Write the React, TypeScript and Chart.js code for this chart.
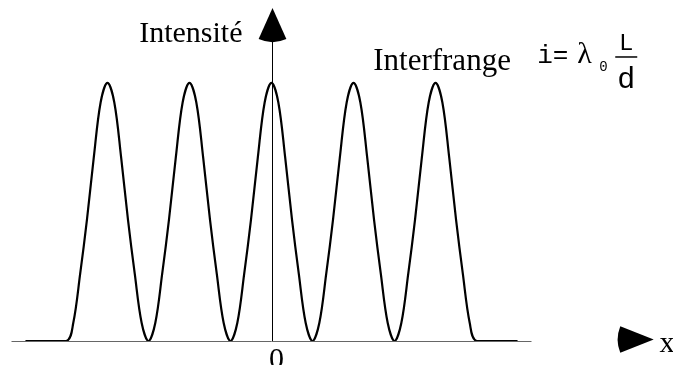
import React, { useEffect, useRef } from "react";
import { Chart, registerables } from "chart.js";

Chart.register(...registerables);

// Position across the screen, in units of the fringe spacing (interfrange)
const positions = [
  -3,
  -2.5, -2.417, -2.333, -2.25, -2.167, -2.083, -2, -1.917, -1.833, -1.75, -1.667, -1.583,
  -1.5, -1.417, -1.333, -1.25, -1.167, -1.083, -1, -0.917, -0.833, -0.75, -0.667, -0.583,
  -0.5, -0.417, -0.333, -0.25, -0.167, -0.083, 0, 0.083, 0.167, 0.25, 0.333, 0.417,
  0.5, 0.583, 0.667, 0.75, 0.833, 0.917, 1, 1.083, 1.167, 1.25, 1.333, 1.417,
  1.5, 1.583, 1.667, 1.75, 1.833, 1.917, 2, 2.083, 2.167, 2.25, 2.333, 2.417,
  2.5,
  3,
];

// Relative intensity at each position (0 = dark fringe, 1 = bright fringe)
const intensity = [
  0,
  0, 0.07, 0.26, 0.47, 0.71, 0.925, 1, 0.925, 0.71, 0.47, 0.26, 0.07,
  0, 0.07, 0.26, 0.47, 0.71, 0.925, 1, 0.925, 0.71, 0.47, 0.26, 0.07,
  0, 0.07, 0.26, 0.47, 0.71, 0.925, 1, 0.925, 0.71, 0.47, 0.26, 0.07,
  0, 0.07, 0.26, 0.47, 0.71, 0.925, 1, 0.925, 0.71, 0.47, 0.26, 0.07,
  0, 0.07, 0.26, 0.47, 0.71, 0.925, 1, 0.925, 0.71, 0.47, 0.26, 0.07,
  0,
  0,
];

const yAxisTitle = "Intensité";
const xAxisTitle = "x";
const originLabel = "0";
const fringeLabel = "Interfrange";

const SERIF = "'Liberation Serif', 'Times New Roman', serif";
const MONO = "'Liberation Mono', 'Courier New', monospace";

// Filled arrow head: a circular sector whose centre is the tip
function arrowHead(
  ctx: CanvasRenderingContext2D,
  tipX: number,
  tipY: number,
  dir: number,
  r: number,
  half: number
) {
  ctx.beginPath();
  ctx.moveTo(tipX, tipY);
  ctx.arc(tipX, tipY, r, dir - half, dir + half);
  ctx.closePath();
  ctx.fill();
}

const axesPlugin = {
  id: "fringeAxes",
  beforeDatasetsDraw(chart: any) {
    const { ctx, scales } = chart;
    const xs = scales.x;
    const ys = scales.y;
    const x0 = xs.getPixelForValue(0);
    const yb = ys.getPixelForValue(0);
    ctx.save();
    // horizontal axis
    ctx.strokeStyle = "#666";
    ctx.lineWidth = 1;
    ctx.beginPath();
    ctx.moveTo(xs.left, Math.round(yb) + 0.5);
    ctx.lineTo(xs.right, Math.round(yb) + 0.5);
    ctx.stroke();
    // vertical axis
    ctx.strokeStyle = "#000";
    ctx.beginPath();
    ctx.moveTo(Math.round(x0) + 0.5, yb);
    ctx.lineTo(Math.round(x0) + 0.5, ys.top + 20);
    ctx.stroke();
    ctx.restore();
  },
  afterDraw(chart: any) {
    const { ctx, scales } = chart;
    const xs = scales.x;
    const ys = scales.y;
    const x0 = Math.round(xs.getPixelForValue(0)) + 0.5;
    const yb = ys.getPixelForValue(0);
    ctx.save();
    ctx.fillStyle = "#000";
    ctx.strokeStyle = "#000";

    // arrow heads
    arrowHead(ctx, x0, ys.top, Math.PI / 2, 34, 0.42);
    arrowHead(ctx, xs.getPixelForValue(4.66), yb - 1.5, Math.PI, 36, 0.38);

    // axis titles
    ctx.font = `30px ${SERIF}`;
    ctx.textBaseline = "alphabetic";
    ctx.textAlign = "right";
    ctx.fillText(yAxisTitle, x0 - 30, ys.getPixelForValue(1.16));
    ctx.textAlign = "left";
    ctx.fillText(xAxisTitle, xs.getPixelForValue(4.73), yb + 11);
    ctx.textAlign = "center";
    ctx.fillText(originLabel, xs.getPixelForValue(0.06), yb + 27);

    // fringe spacing note
    ctx.textAlign = "left";
    ctx.font = `31px ${SERIF}`;
    ctx.fillText(fringeLabel, xs.getPixelForValue(1.24), ys.getPixelForValue(1.05));

    // i = λ0 L / d
    const fx = xs.getPixelForValue(3.24);
    const fy = ys.getPixelForValue(1.077);
    ctx.font = `26px ${MONO}`;
    ctx.fillText("i=", fx, fy);
    ctx.font = `30px ${SERIF}`;
    ctx.fillText("λ", fx + 40, fy);
    ctx.font = `14px ${MONO}`;
    ctx.fillText("0", fx + 62, fy + 8);
    const barL = fx + 78;
    const barR = fx + 100;
    const barY = fy - 6;
    ctx.lineWidth = 1.5;
    ctx.beginPath();
    ctx.moveTo(barL, barY);
    ctx.lineTo(barR, barY);
    ctx.stroke();
    ctx.textAlign = "center";
    ctx.font = `24px ${MONO}`;
    ctx.fillText("L", (barL + barR) / 2, barY - 7);
    ctx.font = `30px ${MONO}`;
    ctx.fillText("d", (barL + barR) / 2, barY + 31);
    ctx.restore();
  },
};

export default function App() {
  const canvasRef = useRef<HTMLCanvasElement>(null);

  useEffect(() => {
    const canvas = canvasRef.current;
    if (!canvas) return;
    const chart = new Chart(canvas, {
      type: "line",
      data: {
        datasets: [
          {
            data: positions.map((p, i) => ({ x: p, y: intensity[i] })),
            borderColor: "#000",
            borderWidth: 2.2,
            pointRadius: 0,
            fill: false,
            tension: 0.35,
          },
        ],
      },
      options: {
        animation: false,
        responsive: true,
        maintainAspectRatio: false,
        events: [],
        layout: { padding: { left: 11.5, right: 141.5, top: 8, bottom: 24 } },
        plugins: {
          legend: { display: false },
          tooltip: { enabled: false },
          title: { display: false },
        },
        scales: {
          x: { type: "linear", min: -3.17, max: 3.17, display: false },
          y: { type: "linear", min: 0, max: 1.29, display: false },
        },
      },
      plugins: [axesPlugin],
    });
    return () => chart.destroy();
  }, []);

  return (
    <div
      style={{
        position: "fixed",
        left: 0,
        top: 0,
        width: 673,
        height: 365,
        background: "#fff",
      }}
    >
      <canvas ref={canvasRef} />
    </div>
  );
}
